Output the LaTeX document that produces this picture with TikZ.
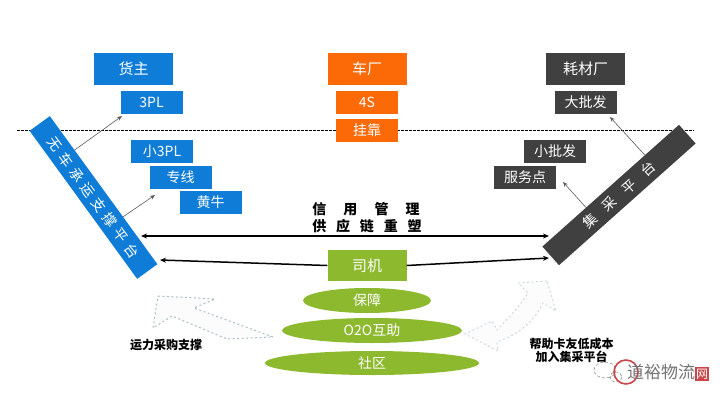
\documentclass[tikz,border=0pt]{standalone}
\usepackage{fontspec}
\usepackage{xcolor}
\usetikzlibrary{arrows.meta,calc,shapes.geometric}
\setmainfont{Noto Sans CJK SC}

\definecolor{platblue}{HTML}{0F7DD8}
\definecolor{factorange}{HTML}{FC6A08}
\definecolor{supplydark}{HTML}{404040}
\definecolor{drivergreen}{HTML}{8DB92E}
\definecolor{hollowgray}{HTML}{A8C0C8}
\definecolor{sealred}{HTML}{C9474A}

\tikzset{
  bigbox/.style={minimum width=79pt,minimum height=32pt,inner sep=0pt,text=white,font=\fontsize{15}{15}\selectfont},
  smallbox/.style={minimum width=62pt,minimum height=23pt,inner sep=0pt,text=white,font=\fontsize{14}{14}\selectfont},
  oval/.style={ellipse,inner sep=0pt,fill=drivergreen,text=white,font=\fontsize{14}{14}\selectfont},
  bar/.style={minimum width=183pt,minimum height=25pt,inner sep=0pt,text=white},
  thinarrow/.style={-{Stealth[length=5pt,width=4pt]},line width=0.6pt,draw=black!65},
  thickarrow/.style={line width=1.5pt,draw=black,arrows={-{Stealth[length=6pt,width=5pt]}}},
  hollowarrow/.style={dashed,dash pattern=on 2pt off 2.5pt,line width=1pt,draw=hollowgray,fill=hollowgray!4},
  caption/.style={align=center,font=\fontsize{12}{15}\selectfont\bfseries}
}

\begin{document}
\begin{tikzpicture}[x=1pt,y=-1pt,>=Stealth]
  \useasboundingbox (0,0) rectangle (720,405);

  % horizon line
  \draw[dashed,dash pattern=on 2.5pt off 1.5pt,line width=0.6pt] (17,130) -- (694,130);

  % shipper column
  \node[bigbox,fill=platblue] (shipper) at (133.5,69) {货主};
  \node[smallbox,fill=platblue] (tpl) at (151.5,102.5) {3PL};
  \node[smallbox,fill=platblue] (smalltpl) at (162,151) {小3PL};
  \node[smallbox,fill=platblue] (line) at (180.5,177) {专线};
  \node[smallbox,fill=platblue] (broker) at (210.5,202.5) {黄牛};

  % truck maker column
  \node[bigbox,fill=factorange] (maker) at (367,69) {车厂};
  \node[smallbox,fill=factorange] (shop) at (367,102.5) {4S};
  \node[smallbox,fill=factorange] (affiliate) at (367,130) {挂靠};

  % consumables column
  \node[bigbox,fill=supplydark] (supplier) at (585.5,69) {耗材厂};
  \node[smallbox,fill=supplydark] (bulk) at (585.5,102.5) {大批发};
  \node[smallbox,fill=supplydark] (retail) at (555,151) {小批发};
  \node[smallbox,fill=supplydark] (service) at (525,177) {服务点};

  % the two platforms
  \node[bar,fill=platblue,rotate=-54,font=\fontsize{14}{14}\selectfont\addfontfeature{LetterSpace=34}] (carrierbar) at (93.5,197.5) {无车承运支撑平台};
  \node[bar,fill=supplydark,rotate=41.7,font=\fontsize{14}{14}\selectfont\addfontfeature{LetterSpace=85}] (buybar) at (619,195) {集采平台};

  % driver stack
  \node[bigbox,fill=drivergreen,minimum height=31pt] (driver) at (367,265.5) {司机};
  \node[oval,minimum width=128pt,minimum height=25pt] (cover) at (367,300.5) {保障};
  \node[oval,minimum width=180pt,minimum height=25pt] (mutual) at (372,330.5) {O2O互助};
  \node[oval,minimum width=214pt,minimum height=24pt] (community) at (372,363) {社区};

  % free ends of the connectors
  \coordinate (tpltip) at (122,116);
  \coordinate (linetip) at (155,195);
  \coordinate (bulktip) at (610,117);
  \coordinate (servicetip) at (563,182);
  \coordinate (creditleft) at (141,236);
  \coordinate (creditright) at (549,236);
  \coordinate (driverleft) at (160,260);
  \coordinate (driverright) at (549,258);

  \draw[thinarrow] ($(carrierbar.north west)!0.23!(carrierbar.north east)$) -- (tpltip);
  \draw[thinarrow] ($(carrierbar.north west)!0.68!(carrierbar.north east)$) -- (linetip);
  \draw[thinarrow] ($(buybar.north west)!0.75!(buybar.north east)$) -- (bulktip);
  \draw[thinarrow] ($(buybar.north west)!0.32!(buybar.north east)$) -- (servicetip);

  \draw[thickarrow,{Stealth[length=6pt,width=5pt]}-{Stealth[length=6pt,width=5pt]}] (creditleft) -- (creditright);
  \draw[thickarrow] (driver.west) -- (driverleft);
  \draw[thickarrow] (driver.east) -- (driverright);

  % captions
  \node[caption,font=\fontsize{14}{14}\selectfont\bfseries\addfontfeature{LetterSpace=122}] (credit) at (366,209) {信用管理};
  \node[caption,font=\fontsize{14}{14}\selectfont\bfseries\addfontfeature{LetterSpace=70}] (chain) at (367,226) {供应链重塑};
  \node[caption] (capacity) at (166,345) {运力采购支撑};
  \node[caption,font=\fontsize{12}{13.5}\selectfont\bfseries] (helpcard) at (571.5,350.5) {帮助卡友低成本\\加入集采平台};

  % hollow arrows
  \draw[hollowarrow] (158,296) -- (215,299) -- (194,308) -- (273,337) -- (227,339) -- (172,316) -- (153,328) -- cycle;
  \draw[hollowarrow,draw=hollowgray!60] (547,281) -- (518,283) -- (528,293) .. controls (520,306) and (510,316) .. (497,330)
    -- (492,321) -- (465,334) -- (498,351) -- (497,342) .. controls (520,334) and (535,320) .. (543,303) -- (556,311) -- cycle;

  % watermark
  \draw[gray,densely dashed,line width=0.5pt] (605,370) ellipse (11 and 8);
  \draw[gray,densely dashed,line width=0.5pt] (616,377) ellipse (6 and 5);
  \draw[sealred,line width=1.6pt] (626,372) circle (12);
  \node[text=black!55,font=\fontsize{17}{17}\selectfont] (seal) at (661,372) {道裕物流};
  \node[fill=sealred,text=white,inner sep=0pt,minimum width=14pt,minimum height=14pt,font=\fontsize{12}{12}\selectfont] (sealnet) at (702,374) {网};
\end{tikzpicture}
\end{document}
